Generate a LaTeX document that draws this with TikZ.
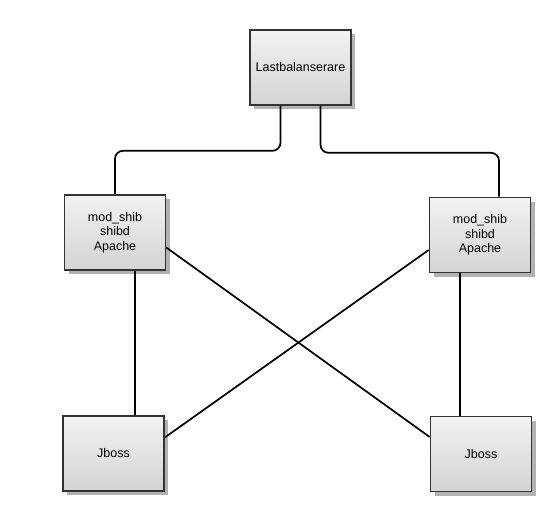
\documentclass[tikz,border=0pt]{standalone}
\usepackage{fontspec}
\setmainfont{Liberation Sans}
\usetikzlibrary{shadows}
\begin{document}
\begin{tikzpicture}[x=1pt, y=-1pt, thick,
  srvbox/.style={draw=black!80, line width=1.6pt, top color=black!5, bottom color=black!17,
    minimum width=101pt, minimum height=75pt, align=center, inner sep=0pt,
    font=\fontsize{12.5}{14.5}\selectfont,
    general shadow={shadow xshift=4pt, shadow yshift=-4pt, fill=black!30}},
  wire/.style={draw=black, line width=1.7pt, rounded corners=8pt}]
  \useasboundingbox (0,0) rectangle (550,512);
  % noder
  \node[srvbox] (lb) at (300.5,67.5) {Lastbalanserare};
  \node[srvbox] (web1) at (115,232.5) {mod\_shib\\shibd\\Apache};
  \node[srvbox] (web2) at (480,235) {mod\_shib\\shibd\\Apache};
  \node[srvbox] (jb1) at (113.5,453.5) {Jboss};
  \node[srvbox] (jb2) at (481,454) {Jboss};
  % fran lastbalanserare
  \draw[wire] ([xshift=-20pt]lb.south) -- ++(0,45) -| (web1.north);
  \draw[wire] ([xshift=20pt]lb.south) -- ++(0,47) -| ([xshift=19pt]web2.north);
  % rakt ner
  \draw[wire] ([xshift=20pt]web1.south) -- ([xshift=20pt]web1.south |- jb1.north);
  \draw[wire] ([xshift=-20pt]web2.south) -- ([xshift=-20pt]web2.south |- jb2.north);
  % korsande
  \draw[wire] ([yshift=-15pt]web1.east) -- ([yshift=17pt]jb2.west);
  \draw[wire] ([yshift=-15pt]web2.west) -- ([yshift=16pt]jb1.east);
\end{tikzpicture}
\end{document}
